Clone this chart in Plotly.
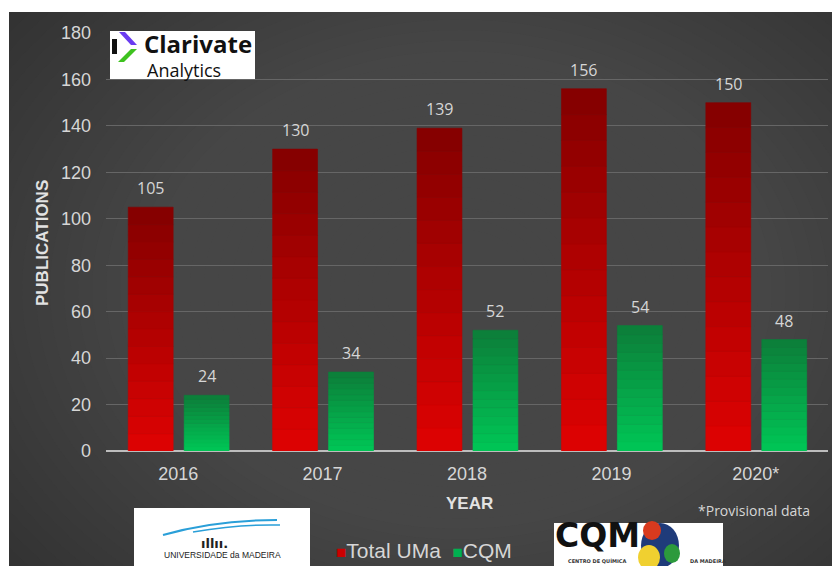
import plotly.graph_objects as go

years = ["2016", "2017", "2018", "2019", "2020*"]
total_uma = [105, 130, 139, 156, 150]
cqm = [24, 34, 52, 54, 48]
y_ticks = [0, 20, 40, 60, 80, 100, 120, 140, 160, 180]

W, H = 832, 566
ML, MR, MT, MB = 106, 4, 33, 115
PW, PH = W - ML - MR, H - MT - MB


def px(x):
    return (x - ML) / PW


def py(y):
    return (H - MB - y) / PH


def lerp(c1, c2, t):
    return "#%02x%02x%02x" % tuple(int(round(a + (b - a) * t)) for a, b in zip(c1, c2))


N = 14
RED_TOP, RED_BOT = (0x86, 0x00, 0x00), (0xdc, 0x02, 0x02)
GRN_TOP, GRN_BOT = (0x0c, 0x80, 0x3a), (0x00, 0xc4, 0x55)
BW = 0.311
OFF_RED, OFF_GRN = -0.346, 0.0415

fig = go.Figure()
for series, name, ctop, cbot, off in [
    (total_uma, "Total UMa", RED_TOP, RED_BOT, OFF_RED),
    (cqm, "CQM", GRN_TOP, GRN_BOT, OFF_GRN),
]:
    for k in range(N):
        t = k / (N - 1)
        col = lerp(cbot, ctop, t)
        fig.add_trace(go.Bar(
            x=list(range(len(years))),
            y=[v / N for v in series],
            base=[v * k / N for v in series],
            width=BW, offset=off,
            marker=dict(color=col, line=dict(width=0.6, color=col)),
            name=name,
            showlegend=False,
            hoverinfo="skip",
        ))


def note(x, y, text, size, color, family="Open Sans", xanchor="center", angle=0):
    return dict(x=px(x), y=py(y), xref="paper", yref="paper", text=text, showarrow=False,
                xanchor=xanchor, yanchor="middle", textangle=angle,
                font=dict(family=family, size=size, color=color))


NARROW = "Liberation Sans Narrow, Liberation Sans"
annotations = []
for i, yr in enumerate(years):
    for series, off in [(total_uma, OFF_RED), (cqm, OFF_GRN)]:
        annotations.append(dict(
            x=i + off + BW / 2, y=series[i], xref="x", yref="y",
            text=str(series[i]), showarrow=False, yanchor="bottom", yshift=6,
            font=dict(family="Open Sans", size=16, color="#d6d6d6"),
        ))

annotations.append(note(42, 243, "<b>PUBLICATIONS</b>", 17, "#e2e2e2", NARROW, angle=-90))
annotations.append(note(470, 503, "<b>YEAR</b>", 17, "#e2e2e2", NARROW))
annotations.append(note(812, 510, "*Provisional data", 14, "#d6d6d6", "Open Sans", xanchor="right"))
# legend drawn as text
annotations.append(note(334, 550,
                        "<span style='color:#cc0000;font-size:17px'>■</span>Total UMa  "
                        "<span style='color:#00b050;font-size:17px'>■</span>CQM",
                        21, "#d6d6d6", NARROW, xanchor="left"))
# Clarivate logo text
annotations.append(note(142, 44, "<b>Clarivate</b>", 24, "#111111", "Open Sans", xanchor="left"))
annotations.append(note(145, 70, "Analytics", 18, "#111111", "Open Sans", xanchor="left"))
# Universidade da Madeira logo text
annotations.append(note(222, 555, "UNIVERSIDADE da MADEIRA", 8.5, "#222222", NARROW))
annotations.append(note(214, 543, "<b>ıllıı.</b>", 13, "#222222", "DejaVu Sans"))
# CQM logo text
annotations.append(note(553, 535, "<b>CQM</b>", 33, "#111111", "DejaVu Sans", xanchor="left"))
annotations.append(note(566, 561, "<b>CENTRO DE QUÍMICA</b>", 5, "#333333", "DejaVu Sans", xanchor="left"))
annotations.append(note(688, 561, "<b>DA MADEIRA</b>", 5, "#333333", "DejaVu Sans", xanchor="left"))

shapes = []
# dark background with soft radial light
shapes.append(dict(type="rect", xref="paper", yref="paper", x0=px(9), x1=px(832), y0=py(12), y1=py(566),
                   fillcolor="#2f2f2f", line=dict(width=0), layer="below"))
NL = 40
for j in range(NL):
    rx = 620 - j * (560 / NL)
    ry = 470 - j * (420 / NL)
    shapes.append(dict(type="circle", xref="paper", yref="paper",
                       x0=px(460 - rx), x1=px(460 + rx), y0=py(290 - ry), y1=py(290 + ry),
                       fillcolor="#666666", opacity=0.045, line=dict(width=0), layer="below"))
# white border area
shapes.append(dict(type="rect", xref="paper", yref="paper", x0=px(-20), x1=px(9), y0=py(-20), y1=py(600),
                   fillcolor="white", line=dict(width=0), layer="below"))
shapes.append(dict(type="rect", xref="paper", yref="paper", x0=px(-20), x1=px(860), y0=py(-20), y1=py(12),
                   fillcolor="white", line=dict(width=0), layer="below"))
# Clarivate box
shapes.append(dict(type="rect", xref="paper", yref="paper", x0=px(110), x1=px(255), y0=py(31), y1=py(80),
                   fillcolor="white", line=dict(width=0), layer="below"))
shapes.append(dict(type="rect", xref="paper", yref="paper", x0=px(112), x1=px(117), y0=py(39), y1=py(54),
                   fillcolor="#111111", line=dict(width=0)))
shapes.append(dict(type="path", xref="paper", yref="paper",
                   path=f"M {px(119)},{py(32)} L {px(125)},{py(32)} L {px(137)},{py(45)} L {px(131)},{py(45)} Z",
                   fillcolor="#6a3cf0", line=dict(width=0)))
shapes.append(dict(type="path", xref="paper", yref="paper",
                   path=f"M {px(131)},{py(49)} L {px(137)},{py(49)} L {px(124)},{py(62)} L {px(118)},{py(62)} Z",
                   fillcolor="#3ec21f", line=dict(width=0)))
# Universidade box
shapes.append(dict(type="rect", xref="paper", yref="paper", x0=px(134), x1=px(310), y0=py(508), y1=py(570),
                   fillcolor="white", line=dict(width=0), layer="below"))
shapes.append(dict(type="path", xref="paper", yref="paper",
                   path=f"M {px(163)},{py(535)} Q {px(215)},{py(520)} {px(277)},{py(520)}",
                   line=dict(color="#2a9fd8", width=2)))
shapes.append(dict(type="path", xref="paper", yref="paper",
                   path=f"M {px(193)},{py(532)} Q {px(240)},{py(524)} {px(280)},{py(525)}",
                   line=dict(color="#2a9fd8", width=1.5)))
# CQM box
shapes.append(dict(type="rect", xref="paper", yref="paper", x0=px(554), x1=px(723), y0=py(523), y1=py(570),
                   fillcolor="white", line=dict(width=0), layer="below"))
shapes.append(dict(type="circle", xref="paper", yref="paper", x0=px(641), x1=px(679), y0=py(523), y1=py(568),
                   fillcolor="#1f3b7a", line=dict(width=0), layer="below"))
shapes.append(dict(type="circle", xref="paper", yref="paper", x0=px(643), x1=px(661), y0=py(521), y1=py(540),
                   fillcolor="#d83a1e", line=dict(width=0), layer="below"))
shapes.append(dict(type="circle", xref="paper", yref="paper", x0=px(638), x1=px(660), y0=py(545), y1=py(570),
                   fillcolor="#f0d030", line=dict(width=0), layer="below"))
shapes.append(dict(type="circle", xref="paper", yref="paper", x0=px(664), x1=px(680), y0=py(544), y1=py(563),
                   fillcolor="#2c9a3c", line=dict(width=0), layer="below"))

fig.update_layout(
    width=W, height=H,
    margin=dict(l=ML, r=MR, t=MT, b=MB),
    paper_bgcolor="white",
    plot_bgcolor="rgba(0,0,0,0)",
    barmode="overlay",
    showlegend=False,
    xaxis=dict(
        range=[-0.5, 4.5], tickmode="array", tickvals=list(range(len(years))), ticktext=years,
        showgrid=False, zeroline=False, showline=False, ticks="", ticklabelstandoff=10,
        tickfont=dict(family=NARROW, size=18, color="#d6d6d6"),
    ),
    yaxis=dict(
        range=[0, 180], tickvals=y_ticks, showgrid=True, gridcolor="#666666", gridwidth=1,
        zeroline=True, zerolinecolor="#bdbdbd", zerolinewidth=2,
        ticks="", ticklabelstandoff=14,
        tickfont=dict(family=NARROW, size=18, color="#d6d6d6"),
    ),
    annotations=annotations,
    shapes=shapes,
)

fig.write_html("out.html")
